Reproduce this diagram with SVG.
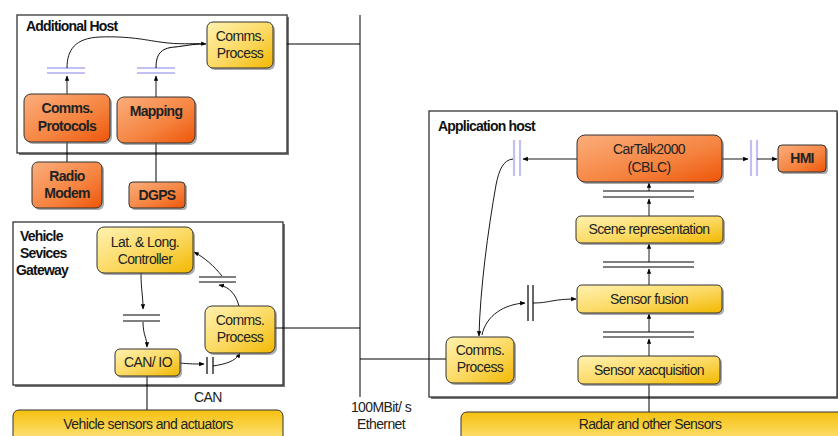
<svg xmlns="http://www.w3.org/2000/svg" width="838" height="436" viewBox="0 0 838 436">
<defs>
<linearGradient id="gOr" x1="0" y1="0" x2="1" y2="1">
<stop offset="0" stop-color="#fbae7c"/>
<stop offset="0.6" stop-color="#f5823e"/>
<stop offset="1" stop-color="#ee5508"/>
</linearGradient>
<linearGradient id="gYe" x1="0" y1="0" x2="1" y2="1">
<stop offset="0" stop-color="#fff2b0"/>
<stop offset="0.55" stop-color="#fbd860"/>
<stop offset="1" stop-color="#f2b800"/>
</linearGradient>
<linearGradient id="gBar" x1="0" y1="0" x2="0" y2="1">
<stop offset="0" stop-color="#f5c010"/>
<stop offset="0.6" stop-color="#fbd95a"/>
<stop offset="1" stop-color="#fde89a"/>
</linearGradient>
<marker id="ar" viewBox="0 0 10 10" refX="9" refY="5" markerWidth="6" markerHeight="6" orient="auto-start-reverse">
<path d="M0,1 L10,5 L0,9 z" fill="#000"/>
</marker>
</defs>
<style>
.host{fill:#fff;stroke:#333;stroke-width:1.3}
.shadow{fill:#777}
.or{fill:url(#gOr);stroke:#333;stroke-width:1}
.ye{fill:url(#gYe);stroke:#333;stroke-width:1}
.bar{fill:url(#gBar);stroke:#333;stroke-width:1}
.nsh{fill:#666;opacity:0.55}
text{font-family:"Liberation Sans",Arial,sans-serif;fill:#222;text-anchor:middle}
.t{font-size:14px;letter-spacing:-0.6px}
.tb{font-size:14px;font-weight:bold;letter-spacing:-0.7px}
.hd{font-size:14px;font-weight:bold;letter-spacing:-0.8px;text-anchor:start;fill:#111}
.ln{stroke:#000;stroke-width:1;fill:none}
.lna{stroke:#000;stroke-width:0.9;fill:none;marker-end:url(#ar)}
.cap{stroke:#000;stroke-width:1.2}
.capb{stroke:#c0c0f4;stroke-width:2.2}
</style>

<!-- host frames -->
<g id="additional-host">
<rect class="shadow" x="19" y="17" width="270" height="138"/>
<rect class="host" x="17" y="15" width="270" height="138"/>
<text class="hd" x="26" y="31">Additional Host</text>
</g>
<g id="vehicle-services-gateway">
<rect class="shadow" x="15" y="224" width="270" height="163"/>
<rect class="host" x="13" y="222" width="270" height="163"/>
<text class="hd" x="20" y="241">Vehicle</text>
<text class="hd" x="20" y="258">Sevices</text>
<text class="hd" x="16" y="275">Gateway</text>
</g>
<g id="application-host">
<rect class="shadow" x="431" y="113" width="410" height="286"/>
<rect class="host" x="429" y="111" width="408" height="286"/>
<text class="hd" x="438" y="131">Application host</text>
</g>

<!-- connectors -->
<g id="connectors">
<!-- ethernet backbone -->
<line class="ln" x1="360" y1="15" x2="360" y2="397"/>
<line class="ln" x1="287" y1="44" x2="360" y2="44"/>
<line class="ln" x1="275" y1="328" x2="360" y2="328"/>
<line class="ln" x1="360" y1="359" x2="446" y2="359"/>
<!-- additional host -->
<line class="ln" x1="67" y1="142" x2="67" y2="162"/>
<line class="ln" x1="156" y1="143" x2="156" y2="182"/>
<line class="lna" x1="67" y1="94" x2="67" y2="76"/>
<line class="lna" x1="156" y1="97" x2="156" y2="76"/>
<line class="capb" x1="47" y1="68" x2="85" y2="68"/>
<line class="capb" x1="47" y1="73" x2="85" y2="73"/>
<line class="capb" x1="137" y1="68" x2="175" y2="68"/>
<line class="capb" x1="137" y1="73" x2="175" y2="73"/>
<path class="lna" d="M67,68 C67,50 75,38 100,37 C130,36 145,40 160,42 C180,45 190,43 206,44"/>
<path class="ln" d="M156,68 C156,55 160,48 175,47 C185,46 192,44 204,44"/>
<!-- vehicle services gateway -->
<line class="ln" x1="147" y1="376" x2="147" y2="410"/>
<path class="lna" d="M141,273 C141,290 143,295 143,309"/>
<line class="cap" x1="123" y1="315" x2="160" y2="315"/>
<line class="cap" x1="123" y1="321" x2="160" y2="321"/>
<path class="lna" d="M143,322 C143,335 147,338 147,347"/>
<path class="lna" d="M180,363 C190,364 195,364 204,364"/>
<line class="cap" x1="207" y1="357" x2="207" y2="374"/>
<line class="cap" x1="213" y1="357" x2="213" y2="374"/>
<path class="lna" d="M213,366 C225,364 235,362 240,353"/>
<path class="lna" d="M239,306 C236,295 230,287 219,285"/>
<line class="cap" x1="199" y1="277" x2="236" y2="277"/>
<line class="cap" x1="199" y1="282" x2="236" y2="282"/>
<path class="lna" d="M222,276 C214,266 205,258 194,252"/>
<!-- application host -->
<line class="lna" x1="577" y1="159" x2="523" y2="159"/>
<line class="capb" x1="514" y1="140" x2="514" y2="176"/>
<line class="capb" x1="520" y1="140" x2="520" y2="176"/>
<line class="lna" x1="722" y1="159" x2="748" y2="159"/>
<line class="capb" x1="751" y1="140" x2="751" y2="176"/>
<line class="capb" x1="757" y1="140" x2="757" y2="176"/>
<line class="lna" x1="757" y1="159" x2="777" y2="159"/>
<path class="lna" d="M513,159 C503,160 499,170 496,185 C488,230 480,290 479,336"/>
<path class="lna" d="M482,335 C486,315 505,304 525,303"/>
<line class="cap" x1="528" y1="285" x2="528" y2="321"/>
<line class="cap" x1="533" y1="285" x2="533" y2="321"/>
<path class="lna" d="M533,303 C550,303 552,299 576,299"/>
<line class="cap" x1="603" y1="191" x2="694" y2="191"/>
<line class="cap" x1="603" y1="197" x2="694" y2="197"/>
<line class="cap" x1="603" y1="262" x2="694" y2="262"/>
<line class="cap" x1="603" y1="267" x2="694" y2="267"/>
<line class="cap" x1="603" y1="332" x2="694" y2="332"/>
<line class="cap" x1="603" y1="337" x2="694" y2="337"/>
<line class="lna" x1="649" y1="356" x2="649" y2="339"/>
<line class="lna" x1="649" y1="332" x2="649" y2="314"/>
<line class="lna" x1="649" y1="285" x2="649" y2="269"/>
<line class="lna" x1="649" y1="262" x2="649" y2="244"/>
<line class="lna" x1="649" y1="216" x2="649" y2="199"/>
<line class="lna" x1="649" y1="191" x2="649" y2="183"/>
<line class="ln" x1="649" y1="384" x2="649" y2="412"/>
</g>

<!-- labels on connectors -->
<text class="t" x="208" y="402">CAN</text>
<text class="t" x="381" y="412">100MBit/ s</text>
<text class="t" x="381" y="429">Ethernet</text>

<!-- nodes -->
<g id="comms-process-add">
<rect class="nsh" x="209" y="24" width="66" height="46" rx="6"/>
<rect class="ye" x="207" y="22" width="66" height="46" rx="6"/>
<text class="t" x="240" y="41">Comms.</text>
<text class="t" x="240" y="58">Process</text>
</g>
<g id="comms-protocols">
<rect class="nsh" x="26" y="96" width="86" height="48" rx="7"/>
<rect class="or" x="24" y="94" width="86" height="48" rx="7"/>
<text class="tb" x="67" y="113">Comms.</text>
<text class="tb" x="67" y="131">Protocols</text>
</g>
<g id="mapping">
<rect class="nsh" x="119" y="99" width="78" height="46" rx="7"/>
<rect class="or" x="117" y="97" width="78" height="46" rx="7"/>
<text class="tb" x="156" y="116">Mapping</text>
</g>
<g id="radio-modem">
<rect class="nsh" x="34" y="164" width="70" height="46" rx="6"/>
<rect class="or" x="32" y="162" width="70" height="46" rx="6"/>
<text class="tb" x="67" y="181">Radio</text>
<text class="tb" x="67" y="198">Modem</text>
</g>
<g id="dgps">
<rect class="nsh" x="131" y="184" width="56" height="26" rx="4"/>
<rect class="or" x="129" y="182" width="56" height="26" rx="4"/>
<text class="tb" x="157" y="200">DGPS</text>
</g>
<g id="lat-long-controller">
<rect class="nsh" x="99" y="229" width="96" height="46" rx="7"/>
<rect class="ye" x="97" y="227" width="96" height="46" rx="7"/>
<text class="t" x="145" y="247">Lat. &amp; Long.</text>
<text class="t" x="145" y="264">Controller</text>
</g>
<g id="comms-process-vsg">
<rect class="nsh" x="207" y="308" width="70" height="47" rx="7"/>
<rect class="ye" x="205" y="306" width="70" height="47" rx="7"/>
<text class="t" x="240" y="325">Comms.</text>
<text class="t" x="240" y="342">Process</text>
</g>
<g id="can-io">
<rect class="nsh" x="117" y="351" width="65" height="27" rx="5"/>
<rect class="ye" x="115" y="349" width="65" height="27" rx="5"/>
<text class="t" x="148" y="367">CAN/ IO</text>
</g>
<g id="vehicle-sensors">
<rect class="bar" x="13" y="410" width="270" height="36" rx="6"/>
<text class="t" x="148" y="429">Vehicle sensors and actuators</text>
</g>
<g id="cartalk2000">
<rect class="nsh" x="579" y="137" width="145" height="47" rx="8"/>
<rect class="or" x="577" y="135" width="145" height="47" rx="8"/>
<text class="t" x="649" y="154">CarTalk2000</text>
<text class="t" x="649" y="172">(CBLC)</text>
</g>
<g id="hmi">
<rect class="nsh" x="780" y="147" width="48" height="27" rx="4"/>
<rect class="or" x="778" y="145" width="48" height="27" rx="4"/>
<text class="tb" x="802" y="163">HMI</text>
</g>
<g id="scene-representation">
<rect class="nsh" x="578" y="218" width="147" height="27" rx="5"/>
<rect class="ye" x="576" y="216" width="147" height="27" rx="5"/>
<text class="t" x="649" y="234">Scene representation</text>
</g>
<g id="sensor-fusion">
<rect class="nsh" x="579" y="287" width="145" height="28" rx="5"/>
<rect class="ye" x="577" y="285" width="145" height="28" rx="5"/>
<text class="t" x="649" y="304">Sensor fusion</text>
</g>
<g id="sensor-acquisition">
<rect class="nsh" x="580" y="358" width="142" height="28" rx="5"/>
<rect class="ye" x="578" y="356" width="142" height="28" rx="5"/>
<text class="t" x="649" y="375">Sensor xacquisition</text>
</g>
<g id="comms-process-app">
<rect class="nsh" x="448" y="339" width="68" height="46" rx="7"/>
<rect class="ye" x="446" y="337" width="68" height="46" rx="7"/>
<text class="t" x="480" y="355">Comms.</text>
<text class="t" x="480" y="372">Process</text>
</g>
<g id="radar-sensors">
<rect class="bar" x="461" y="412" width="390" height="36" rx="6"/>
<text class="t" x="650" y="429">Radar and other Sensors</text>
</g>
</svg>
